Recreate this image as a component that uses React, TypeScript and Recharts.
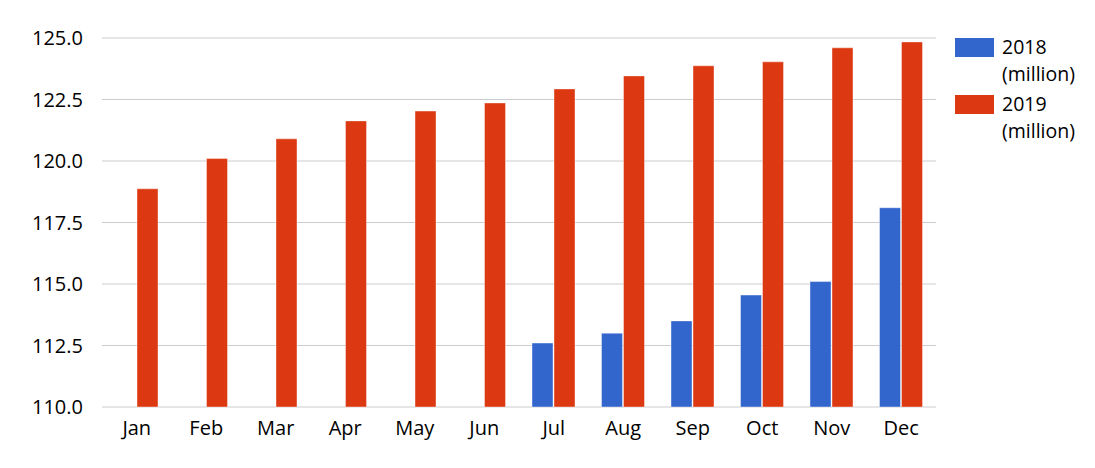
import { Bar, BarChart, CartesianGrid, XAxis, YAxis } from "recharts";

const months = ["Jan", "Feb", "Mar", "Apr", "May", "Jun", "Jul", "Aug", "Sep", "Oct", "Nov", "Dec"];
const values2018: (number | null)[] = [null, null, null, null, null, null, 112.6, 113.0, 113.5, 114.55, 115.1, 118.1];
const values2019 = [118.87, 120.1, 120.9, 121.63, 122.03, 122.36, 122.93, 123.46, 123.87, 124.03, 124.6, 124.84];
const yTicks = [110, 112.5, 115, 117.5, 120, 122.5, 125];
const seriesLabels = ["2018", "2019"];

const data = months.map((m, i) => ({ month: m, y2018: values2018[i], y2019: values2019[i] }));

const FONT = "'Open Sans', sans-serif";
const BLUE = "#3366cc";
const RED = "#dc3912";
const colors = [BLUE, RED];

function LegendBox() {
  return (
    <div
      style={{
        position: "absolute",
        left: 955,
        top: 34,
        fontFamily: FONT,
        fontSize: 19.5,
        color: "#000",
        lineHeight: "26.5px",
      }}
    >
      {seriesLabels.map((label, i) => (
        <div key={label} style={{ display: "flex", alignItems: "flex-start", marginBottom: i === 0 ? 4 : 0 }}>
          <div style={{ width: 39, height: 19.5, background: colors[i], marginTop: 3.5, marginRight: 8 }} />
          <div>
            {label}
            <br />
            (million)
          </div>
        </div>
      ))}
    </div>
  );
}

export default function App() {
  return (
    <div style={{ position: "absolute", left: 0, top: 0, width: 1095, height: 468, background: "#fff" }}>
      <BarChart
        width={1095}
        height={468}
        data={data}
        margin={{ top: 38, right: 159, bottom: 31, left: 0 }}
        barSize={21}
        barGap={1}
      >
        <CartesianGrid stroke="#cccccc" vertical={false} />
        <XAxis
          dataKey="month"
          axisLine={false}
          tickLine={false}
          height={30}
          tickSize={6}
          tickMargin={8}
          tick={{ fontFamily: FONT, fontSize: 20, fill: "#000" }}
          interval={0}
        />
        <YAxis
          domain={[110, 125]}
          ticks={yTicks}
          tickFormatter={(v: number) => v.toFixed(1)}
          axisLine={false}
          tickLine={false}
          width={102}
          tickSize={6}
          tickMargin={13}
          tick={{ fontFamily: FONT, fontSize: 20, fill: "#000" }}
          interval={0}
        />
        <Bar dataKey="y2018" fill={BLUE} stroke="#ffffff" strokeOpacity={0.4} isAnimationActive={false} />
        <Bar dataKey="y2019" fill={RED} stroke="#ffffff" strokeOpacity={0.4} isAnimationActive={false} />
      </BarChart>
      <LegendBox />
    </div>
  );
}
